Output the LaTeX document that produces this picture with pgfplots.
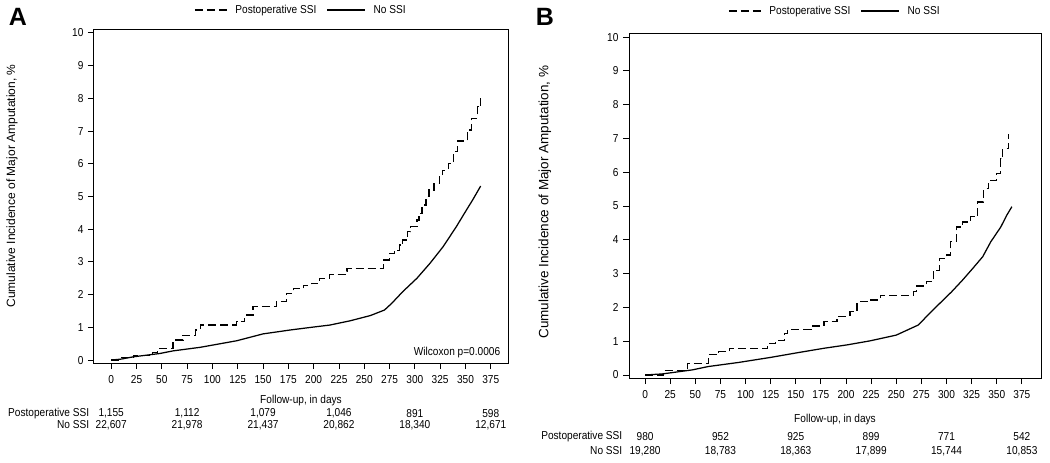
\documentclass[border=0pt]{standalone}
\usepackage{fontspec}
\setmainfont{Liberation Sans}[FakeStretch=0.88]
\newfontfamily\panelfont{Liberation Sans}
\usepackage{pgfplots}
\usepackage{pgfplotstable}
\pgfplotsset{compat=1.18}

\pgfplotstableread{
day val
0 0
10 0.08
22 0.15
41 0.22
46 0.36
61 0.61
71 0.76
83 0.92
88 1.07
124 1.17
132 1.38
140 1.63
163 1.78
173 2.04
180 2.19
190 2.29
198 2.35
206 2.50
216 2.62
231 2.70
233 2.80
269 3.06
275 3.26
280 3.36
285 3.52
288 3.67
293 3.92
296 4.08
302 4.28
304 4.49
307 4.74
311 5.00
314 5.20
319 5.40
324 5.60
327 5.80
333 6.01
338 6.37
342 6.70
352 7.03
356 7.39
362 7.75
365 8.05
}\ssiA

\pgfplotstableread{
day val
0 0
10 0.03
22 0.10
48 0.20
61 0.28
88 0.39
124 0.59
150 0.80
177 0.92
200 1.01
216 1.07
236 1.20
256 1.36
270 1.53
277 1.73
288 2.09
302 2.50
315 2.96
328 3.47
341 4.08
351 4.59
357 4.89
365 5.32
}\nossiA

\pgfplotstableread{
day val
0 0
18 0.13
42 0.33
63 0.60
73 0.69
84 0.79
122 0.94
130 1.03
139 1.23
142 1.35
165 1.45
178 1.58
191 1.74
204 1.87
211 2.17
224 2.22
234 2.36
267 2.46
270 2.63
280 2.76
287 3.10
293 3.45
300 3.55
304 3.94
310 4.38
316 4.53
324 4.68
331 5.12
337 5.52
342 5.76
350 5.96
354 6.40
356 6.70
362 7.14
}\ssiB

\pgfplotstableread{
day val
0 0
17 0.03
47 0.15
63 0.25
93 0.37
125 0.52
152 0.66
178 0.79
201 0.89
224 1.01
250 1.18
272 1.48
283 1.82
295 2.17
305 2.46
316 2.81
326 3.15
336 3.50
344 3.94
354 4.38
360 4.73
365 4.98
}\nossiB

\newcommand\tf{\fontsize{11.5}{13}\selectfont}

\pgfplotsset{
  km/.style={
    scale only axis,
    anchor=south west,
    clip=false,
    axis line style={line width=1pt},
    ymin=-0.09, ymax=10.12,
    ytick={0,1,...,10},
    xtick={0,25,...,375},
    tick align=outside,
    xtick pos=bottom, ytick pos=left,
    major tick length=6pt,
    every tick/.style={black, line width=0.9pt},
    /pgf/number format/assume math mode=true,
    ticklabel style={font=\tf},
    xticklabel style={yshift=-3pt},
    yticklabel style={xshift=-1pt},
    xlabel={Follow-up, in days},
    xlabel style={font=\tf, inner sep=0.5pt},
    ylabel={Cumulative Incidence of Major Amputation, \%},
    legend style={draw=none, fill=none, font=\tf, legend columns=2,
      at={(0.5,1)}, anchor=center,
      /tikz/every odd column/.append style={column sep=6pt},
      /tikz/every even column/.append style={column sep=8pt}},
  },
  ssi/.style={black, line width=1.25pt, const plot, dash pattern=on 8pt off 4pt,
    legend image code/.code={\draw[black, line width=1.2pt, dash pattern=on 8pt off 4pt] (0pt,0pt) -- (32pt,0pt);}},
  nossi/.style={black, line width=1.25pt, sharp plot,
    legend image code/.code={\draw[black, line width=1.2pt] (0pt,0pt) -- (38pt,0pt);}},
}
\tikzset{rt/.style={font=\tf, inner sep=0.5pt}}

\begin{document}
\begin{tikzpicture}[x=1pt,y=1pt]
\path[use as bounding box] (0,0) rectangle (1050,-463);

\node[font=\panelfont\bfseries\fontsize{25}{25}\selectfont] at (18,-17) {A};
\node[font=\panelfont\bfseries\fontsize{25}{25}\selectfont] at (545,-17) {B};

% Panel A
\begin{axis}[km, at={(94pt,-363pt)}, width=414pt, height=334pt,
  xmin=-17, xmax=392,
  xlabel style={at={(axis description cs:0.5,0)}, anchor=center, yshift=-38pt},
  ylabel style={at={(axis description cs:-0.198,0.53)}, anchor=center, font=\panelfont\fontsize{12}{13}\selectfont},
  legend style={yshift=19pt}]
\addplot[ssi] table[x=day,y=val] {\ssiA};
\addlegendentry{Postoperative SSI}
\addplot[nossi] table[x=day,y=val] {\nossiA};
\addlegendentry{No SSI}
\node[anchor=east, rt] at (axis cs:385,0.24) {Wilcoxon p=0.0006};
\node[anchor=east, rt] at (axis cs:-21,-1.63) {Postoperative SSI};
\node[anchor=east, rt] at (axis cs:-21,-1.98) {No SSI};
\node[rt] at (axis cs:0,-1.63) {1,155};
\node[rt] at (axis cs:75,-1.63) {1,112};
\node[rt] at (axis cs:150,-1.63) {1,079};
\node[rt] at (axis cs:225,-1.63) {1,046};
\node[rt] at (axis cs:300,-1.63) {891};
\node[rt] at (axis cs:375,-1.63) {598};
\node[rt] at (axis cs:0,-1.98) {22,607};
\node[rt] at (axis cs:75,-1.98) {21,978};
\node[rt] at (axis cs:150,-1.98) {21,437};
\node[rt] at (axis cs:225,-1.98) {20,862};
\node[rt] at (axis cs:300,-1.98) {18,340};
\node[rt] at (axis cs:375,-1.98) {12,671};
\end{axis}

% Panel B
\begin{axis}[km, at={(629pt,-378pt)}, width=412pt, height=345pt,
  xmin=-16, xmax=394,
  xlabel style={at={(axis description cs:0.5,0)}, anchor=center, yshift=-42pt},
  ylabel style={at={(axis description cs:-0.204,0.51)}, anchor=center, font=\panelfont\fontsize{13.5}{14}\selectfont},
  legend style={yshift=22pt}]
\addplot[ssi] table[x=day,y=val] {\ssiB};
\addlegendentry{Postoperative SSI}
\addplot[nossi] table[x=day,y=val] {\nossiB};
\addlegendentry{No SSI}
\node[anchor=east, rt] at (axis cs:-22,-1.83) {Postoperative SSI};
\node[anchor=east, rt] at (axis cs:-22,-2.25) {No SSI};
\node[rt] at (axis cs:0,-1.83) {980};
\node[rt] at (axis cs:75,-1.83) {952};
\node[rt] at (axis cs:150,-1.83) {925};
\node[rt] at (axis cs:225,-1.83) {899};
\node[rt] at (axis cs:300,-1.83) {771};
\node[rt] at (axis cs:375,-1.83) {542};
\node[rt] at (axis cs:0,-2.25) {19,280};
\node[rt] at (axis cs:75,-2.25) {18,783};
\node[rt] at (axis cs:150,-2.25) {18,363};
\node[rt] at (axis cs:225,-2.25) {17,899};
\node[rt] at (axis cs:300,-2.25) {15,744};
\node[rt] at (axis cs:375,-2.25) {10,853};
\end{axis}
\end{tikzpicture}
\end{document}
